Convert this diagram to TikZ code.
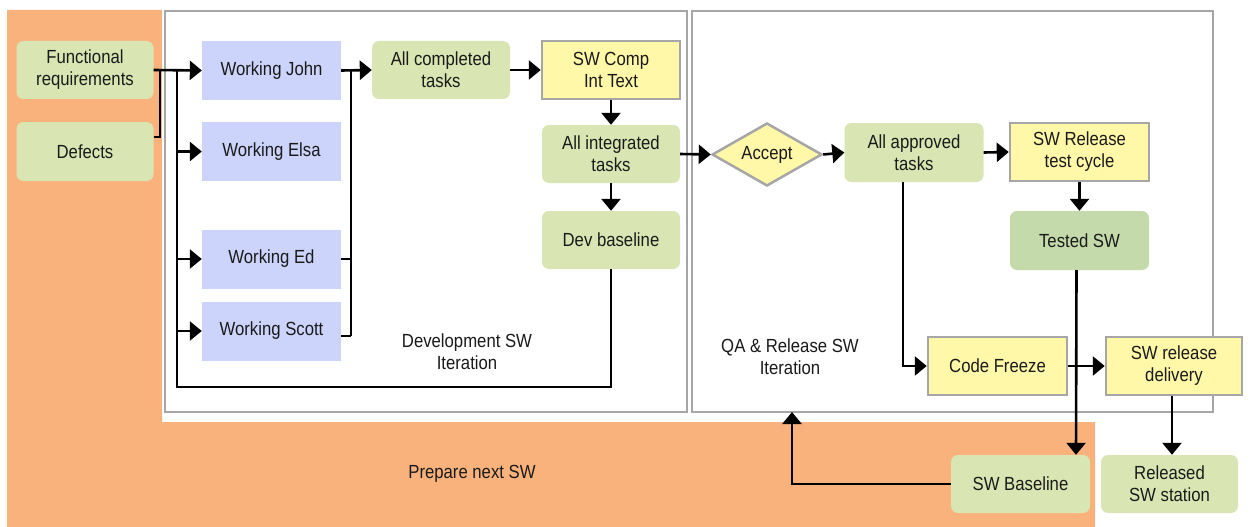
\documentclass[tikz,border=0pt]{standalone}
\usepackage{fontspec}
\setmainfont{Liberation Sans}[FakeStretch=0.88]
\usetikzlibrary{arrows.meta,shapes.geometric,calc}
\definecolor{orng}{HTML}{F9B27B}
\definecolor{lgreen}{HTML}{D9E6B3}
\definecolor{dgreen}{HTML}{C5DAAA}
\definecolor{lblue}{HTML}{CCD4FC}
\definecolor{lyellow}{HTML}{FFF8A8}
\definecolor{frgray}{HTML}{A6A6A6}
\definecolor{txt}{HTML}{1A1A1A}
\begin{document}
\begin{tikzpicture}[x=1pt,y=-1pt,
  every node/.style={font=\fontsize{19}{22}\selectfont, text=txt, align=center, inner sep=0pt},
  gbox/.style={fill=lgreen, rounded corners=7pt, minimum width=137pt, minimum height=58pt},
  tbox/.style={fill=dgreen, rounded corners=7pt, minimum width=139pt, minimum height=59pt},
  bbox/.style={fill=lblue, minimum width=139pt, minimum height=59pt},
  ybox/.style={fill=lyellow, draw=frgray, line width=2.5pt, minimum width=138pt, minimum height=58pt},
  frame/.style={draw=frgray, line width=2.5pt},
  conn/.style={draw=black, line width=2.6pt},
  arr/.style={conn, -{Triangle[width=19pt,length=12pt]}},
  lbl/.style={fill=none}
]
\useasboundingbox (0,0) rectangle (1251,527);
\fill[white] (0,0) rectangle (1251,527);
% orange background
\fill[orng] (7,10) -- (162,10) -- (162,422) -- (1095,422) -- (1095,527) -- (7,527) -- cycle;
% frames
\draw[frame] (165,11) rectangle (687,412);
\draw[frame] (692,11) rectangle (1213,412);

% nodes
\node[gbox] (fr) at (85,70) {Functional\\requirements};
\node[gbox, minimum height=59pt] (def) at (85,151.5) {Defects};
\node[bbox] (john) at (271.5,70.5) {Working John};
\node[bbox] (elsa) at (271.5,151.5) {Working Elsa};
\node[bbox] (ed) at (271.5,259) {Working Ed};
\node[bbox] (scott) at (271.5,331) {Working Scott};
\node[gbox, minimum width=138pt] (allc) at (441,70) {All completed\\tasks};
\node[ybox, minimum width=138pt] (swc) at (611,70) {SW Comp\\Int Text};
\node[gbox, minimum width=138pt] (alli) at (611,154) {All integrated\\tasks};
\node[gbox, minimum width=138pt] (devb) at (611,240) {Dev baseline};
\node[diamond, aspect=1.75, fill=lyellow, draw=frgray, line width=2.5pt, minimum width=110pt, minimum height=63pt] (acc) at (767,154.5) {Accept};
\node[gbox, minimum width=139pt, minimum height=59pt] (appr) at (914,152.5) {All approved\\tasks};
\node[ybox, minimum width=139pt] (swr) at (1079.5,152) {SW Release\\test cycle};
\node[tbox] (tested) at (1079.5,240.5) {Tested SW};
\node[ybox, minimum width=139pt] (cf) at (997.5,366) {Code Freeze};
\node[ybox, minimum width=136pt] (swd) at (1174,366) {SW release\\delivery};
\node[gbox, minimum width=139pt] (swb) at (1020.5,484) {SW Baseline};
\node[gbox] (rel) at (1169.5,484) {Released\\SW station};

% labels
\node[lbl] (devl) at (467,352) {Development SW\\Iteration};
\node[lbl] (qal) at (790,357) {QA \& Release SW\\Iteration};
\node[lbl] (prep) at (472,474) {Prepare next SW};

% coordinates
\coordinate (j1) at (160,70);
\coordinate (busL) at (177,70);
\coordinate (busLb) at (177,387);
\coordinate (busR) at (351,70);
\coordinate (busRb) at (351,336);
\coordinate (qaB) at (792,412);

% left side connectors
\draw[conn] ($(def.east)+(0,-14.5)$) -| (j1);
\draw[arr] (fr.east) -- (john.west);
\draw[conn] (devb.south) |- (busLb) -- (busL);
\draw[arr] (busL |- elsa.west) -- (elsa.west);
\draw[arr] (busL |- ed.west) -- (ed.west);
\draw[arr] (busL |- scott.west) -- (scott.west);
% right bus of workers
\draw[conn] (busR) -- (busRb);
\draw[conn] (ed.east) -- (busR |- ed.east);
\draw[conn] ($(scott.east)+(0,5)$) -- (busRb);
\draw[arr] (john.east) -- (allc.west);
\draw[arr] (allc.east) -- (swc.west);
\draw[arr] (swc.south) -- (alli.north);
\draw[arr] (alli.south) -- (devb.north);
\draw[arr] (alli.east) -- (acc.west);
\draw[arr] (acc.east) -- (appr.west);
\draw[arr] (appr.east) -- (swr.west);
\draw[arr] (swr.south) -- (tested.north);
\draw[arr] ($(tested.south)+(-3,0)$) -- ($(swb.north)+(55.5,0)$);
\draw[arr] ($(appr.south)+(-11,0)$) |- (cf.west);
\draw[arr] (cf.east) -- (swd.west);
\draw[arr] ($(swd.south)+(-2,0)$) -- ($(rel.north)+(2.5,0)$);
\draw[arr] (swb.west) -| (qaB);
\end{tikzpicture}
\end{document}
